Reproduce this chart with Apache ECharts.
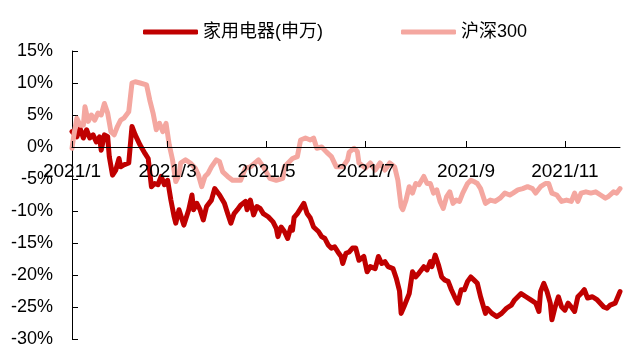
<!DOCTYPE html>
<html>
<head>
<meta charset="utf-8">
<script src="https://cdn.jsdelivr.net/npm/echarts@6/dist/echarts.min.js"></script>
<style>
  html, body { margin: 0; padding: 0; background: #ffffff; }
  #main { width: 640px; height: 364px; }
</style>
</head>
<body>
<div id="main"></div>
<script>
// days counted from 2021-01-01, values in %
var dayCount = 339;
var tickDays = [0, 59, 120, 181, 243, 304];
var tickLabels = ['2021/1', '2021/3', '2021/5', '2021/7', '2021/9', '2021/11'];
var yMin = -30, yMax = 15, yStep = 5;

var homeDays = [0,3,5,7,9,11,13,15,17,18,20,22,23,25,27,29,30,32,35,37,39,42,45,47,49,51,53,55,57,59,
  61,63,64,66,67,69,72,74,75,77,79,81,83,86,88,91,94,96,98,100,102,104,107,108,110,112,114,116,118,121,
  124,126,127,129,131,133,135,136,137,139,140,143,145,147,149,152,154,156,158,160,162,164,166,167,169,171,173,175,177,180,
  182,184,187,189,191,193,195,198,200,202,203,205,208,210,212,214,217,219,221,222,224,226,228,230,232,234,236,238,240,242,
  244,246,248,250,252,255,256,259,262,265,268,271,273,277,280,283,286,288,289,291,293,295,296,298,300,302,304,306,308,310,
  312,314,316,318,321,324,328,330,332,335,338];
var homeVals = [2.4,1.6,2.9,1.4,2.7,1.4,1.9,0.8,1.6,-0.5,1.9,1.6,-1.5,-4.4,-3.6,-1.8,-3.1,-2.8,-2.5,3.2,
  1.9,0.3,-1.0,-1.8,-6.2,-5.7,-5.9,-4.6,-5.9,-5.2,
  -8.3,-10.9,-11.9,-9.8,-9.8,-12.2,-9.8,-7.5,-9.8,-8.8,-9.8,-11.4,-9.3,-8.3,-6.5,-7.5,-8.8,-10.4,-11.9,-10.4,
  -9.8,-9.1,-8.5,-9.8,-8.3,-10.6,-9.3,-9.6,-10.4,-10.9,
  -11.7,-12.7,-14.0,-12.5,-13.2,-14.3,-12.5,-13.0,-11.0,-10.4,-10.6,-8.8,-10.4,-11.1,-12.5,-13.2,-14.0,-14.3,-15.3,-15.8,
  -15.6,-16.4,-17.1,-18.2,-16.6,-16.4,-15.8,-15.8,-17.7,-17.1,
  -19.5,-18.7,-19.0,-17.1,-18.2,-17.9,-18.7,-19.0,-20.5,-22.5,-26.0,-24.8,-22.9,-19.5,-20.3,-19.7,-18.7,-19.2,-17.9,-18.7,
  -16.9,-18.4,-20.3,-20.8,-21.0,-22.3,-23.4,-24.4,-22.3,-22.3,
  -21.0,-20.3,-20.8,-21.3,-23.4,-26.0,-25.2,-26.0,-26.5,-26.0,-25.2,-24.7,-23.9,-22.9,-23.4,-23.9,-24.4,-25.7,-22.6,-21.3,
  -22.6,-24.4,-27.0,-25.0,-23.4,-25.0,-25.5,-24.4,-25.0,-25.7,
  -23.4,-22.9,-22.3,-23.6,-23.4,-23.9,-25.0,-25.2,-24.7,-24.4,-22.6];

var hs300Days = [0,1,3,5,7,8,10,12,14,16,18,20,22,24,26,28,30,32,35,37,39,42,46,48,50,52,54,56,58,60,
  62,64,66,67,70,73,76,78,80,82,84,86,89,91,93,96,99,104,107,110,115,118,122,126,130,131,136,139,141,144,
  147,149,151,154,157,160,163,167,170,171,174,176,177,181,184,187,190,193,196,199,201,203,204,206,208,210,212,214,217,219,
  221,223,225,227,229,231,233,235,237,239,241,244,246,248,250,252,255,258,261,264,267,270,272,275,278,281,284,286,289,292,
  294,296,299,302,305,308,310,312,314,317,320,323,326,329,331,334,336,338];
var hs300Vals = [-0.2,1.6,4.5,3.4,3.4,6.3,4.0,5.0,4.2,5.3,5.0,6.8,5.3,2.4,1.9,3.2,4.2,4.5,5.5,10.0,
  10.2,10.0,9.7,7.3,5.3,2.7,3.7,2.4,3.7,0.3,
  -2.0,-5.4,-4.4,-2.5,-2.0,-2.5,-3.3,-4.4,-6.2,-4.6,-4.1,-3.1,-2.0,-2.3,-3.9,-4.6,-5.2,-5.2,-3.3,-3.1,
  -2.0,-3.1,-4.9,-5.2,-4.9,-3.1,-1.8,-1.5,1.1,1.4,
  1.1,1.4,-0.2,0.0,-0.8,-1.5,-3.1,-3.1,-2.0,-0.8,-0.2,-0.7,-2.5,-3.3,-2.5,-3.6,-2.5,-3.6,-2.5,-3.1,
  -5.2,-9.3,-9.8,-8.3,-6.2,-7.2,-5.7,-5.9,-4.6,-5.7,
  -5.7,-7.2,-6.7,-8.5,-9.6,-7.8,-7.0,-8.8,-8.3,-8.5,-7.2,-5.7,-5.2,-5.4,-5.7,-6.5,-8.8,-8.3,-8.5,-8.0,
  -7.2,-7.5,-7.2,-6.7,-6.5,-6.2,-6.5,-7.2,-6.2,-5.7,
  -5.7,-7.2,-7.5,-8.5,-8.3,-8.5,-7.2,-8.5,-7.2,-7.0,-7.2,-7.0,-7.5,-8.0,-7.7,-7.0,-7.2,-6.5];

var myChart;
var option;

// grid box, px
var gridTop = 51, gridBottom = 25, gridLeft = 72, gridRight = 20;
var chartHeight = 364;

function pairUp(days, vals) {
    return days.map(function (d, i) { return [d, vals[i]]; });
}

function isTickDay(index) {
    return tickDays.indexOf(index) >= 0;
}

window.onload = function () {
    myChart = echarts.init(document.getElementById('main'), null, { renderer: 'canvas' });

    var categories = [];
    for (var i = 0; i < dayCount; i++) {
        categories.push(i);
    }

    // move the category axis up onto the 0% line
    var plotH = chartHeight - gridTop - gridBottom;
    var zeroShift = plotH * (0 - yMin) / (yMax - yMin);

    var font = "'Liberation Sans', Arial, 'Noto Sans CJK SC', sans-serif";

    option = {
        backgroundColor: '#ffffff',
        animation: false,
        textStyle: { fontFamily: font },
        legend: {
            left: 143,
            top: 23,
            padding: 0,
            icon: 'roundRect',
            itemWidth: 55,
            itemHeight: 5,
            itemGap: 78,
            textStyle: { fontSize: 18, color: '#000000', fontFamily: font },
            data: ['家用电器(申万)', '沪深300']
        },
        grid: { left: gridLeft, right: gridRight, top: gridTop, bottom: gridBottom },
        xAxis: {
            type: 'category',
            data: categories,
            boundaryGap: false,
            position: 'bottom',
            offset: -zeroShift,
            z: 5,
            axisLine: { onZero: false, lineStyle: { color: '#000000', width: 1 } },
            axisTick: {
                inside: true,
                length: 6,
                interval: function (index) { return isTickDay(index); },
                lineStyle: { color: '#000000' }
            },
            axisLabel: {
                interval: function (index) { return isTickDay(index); },
                formatter: function (value, index) {
                    return tickLabels[tickDays.indexOf(index)];
                },
                fontSize: 19,
                color: '#000000',
                fontFamily: font,
                margin: 15
            },
            splitLine: { show: false }
        },
        yAxis: {
            type: 'value',
            min: yMin,
            max: yMax,
            interval: yStep,
            axisLine: { show: true, lineStyle: { color: '#000000', width: 1 } },
            axisTick: { show: true, inside: true, length: 6, lineStyle: { color: '#000000' } },
            axisLabel: {
                formatter: '{value}%',
                fontSize: 18,
                color: '#000000',
                fontFamily: font,
                margin: 19
            },
            splitLine: { show: false }
        },
        series: [
            {
                name: '家用电器(申万)',
                type: 'line',
                symbol: 'none',
                data: pairUp(homeDays, homeVals),
                itemStyle: { color: '#c00000' },
                lineStyle: { color: '#c00000', width: 5, cap: 'round', join: 'round' }
            },
            {
                name: '沪深300',
                type: 'line',
                symbol: 'none',
                data: pairUp(hs300Days, hs300Vals),
                itemStyle: { color: '#f4a7a0' },
                lineStyle: { color: '#f4a7a0', width: 5, cap: 'round', join: 'round' }
            }
        ]
    };

    option && myChart.setOption(option);
};
</script>
</body>
</html>
